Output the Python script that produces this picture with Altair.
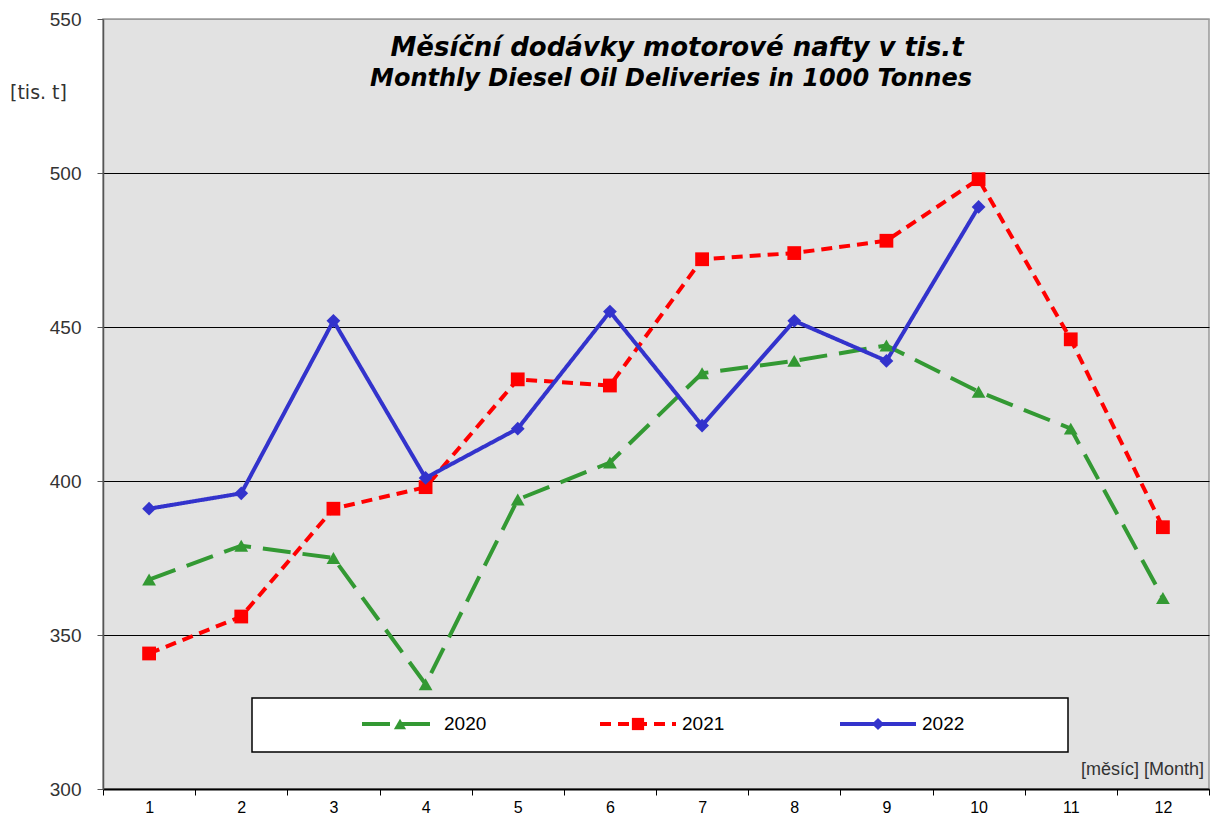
import altair as alt
import pandas as pd

months = list(range(1, 13))
years = ["2020", "2021", "2022"]
v2020 = [368, 379, 375, 334, 394, 406, 435, 439, 444, 429, 417, 362]
v2021 = [344, 356, 391, 398, 433, 431, 472, 474, 478, 498, 446, 385]
v2022 = [391, 396, 452, 401, 417, 455, 418, 452, 439, 489]
y_ticks = [300, 350, 400, 450, 500, 550]

colors = ["#339933", "#ff0000", "#3333cc"]
dashes = [[28, 12], [11, 7], [1, 0]]
shapes = ["triangle-up", "square", "diamond"]

rows = []
for yr, vals in zip(years, [v2020, v2021, v2022]):
    for m, v in zip(months, vals):
        rows.append({"month": m, "year": yr, "value": v})
df = pd.DataFrame(rows)

FONT = "Liberation Sans"
WIDE = "DejaVu Sans"

x_enc = alt.X(
    "month:O",
    scale=alt.Scale(type="band", paddingInner=0, paddingOuter=0),
    axis=alt.Axis(
        title=None, labelAngle=0, tickBand="extent", grid=False,
        domainColor="black", domainWidth=2, tickColor="black", tickSize=6,
        labelPadding=4, labelFontSize=16, labelColor="black", labelFont=FONT,
    ),
)
y_enc = alt.Y(
    "value:Q",
    scale=alt.Scale(domain=[300, 550], nice=False, zero=False),
    axis=alt.Axis(
        values=y_ticks, title=None, grid=True,
        gridColor={"condition": {"test": "datum.value === 550", "value": "#999999"}, "value": "black"},
        gridWidth=1, domainColor="#555555", domainWidth=1.5, tickColor="#555555",
        tickSize=6, labelPadding=16, labelFontSize=19, labelColor="#333333",
        labelFont=FONT,
    ),
)
col = alt.Color("year:N", scale=alt.Scale(domain=years, range=colors), legend=None)

base = alt.Chart(df).encode(x=x_enc, y=y_enc, color=col)

lines = base.mark_line(strokeWidth=4).encode(
    strokeDash=alt.StrokeDash("year:N", scale=alt.Scale(domain=years, range=dashes), legend=None),
    order=alt.Order("month:Q"),
)
points = base.mark_point(filled=True, opacity=1, size=190).encode(
    shape=alt.Shape("year:N", scale=alt.Scale(domain=years, range=shapes), legend=None),
)

one = pd.DataFrame({"a": [0]})
deco = []

# titles and axis captions
deco.append(alt.Chart(one).mark_text(text="Měsíční dodávky motorové nafty v tis.t", font=WIDE,
            fontSize=26, fontWeight="bold", fontStyle="italic", color="black", align="center",
            baseline="middle").encode(x=alt.value(574), y=alt.value(29)))
deco.append(alt.Chart(one).mark_text(text="Monthly Diesel Oil Deliveries in 1000 Tonnes", font=WIDE,
            fontSize=24, fontWeight="bold", fontStyle="italic", color="black", align="center",
            baseline="middle").encode(x=alt.value(568), y=alt.value(60)))
deco.append(alt.Chart(one).mark_text(text="[tis. t]", font=WIDE, fontSize=19, color="#333333",
            align="left", baseline="middle").encode(x=alt.value(-93), y=alt.value(74)))
deco.append(alt.Chart(one).mark_text(text="[měsíc] [Month]", font=FONT, fontSize=18, color="#333333",
            align="right", baseline="middle").encode(x=alt.value(1101), y=alt.value(751)))

# legend box
deco.append(alt.Chart(one).mark_rect(fill="white", stroke="black", strokeWidth=1.5).encode(
    x=alt.value(149), x2=alt.value(965), y=alt.value(679), y2=alt.value(733)))

leg_x = [259, 497, 737]
leg_y = 705
for yr, c, d, s, lx in zip(years, colors, dashes, shapes, leg_x):
    deco.append(alt.Chart(one).mark_rule(color=c, strokeWidth=4, strokeDash=d).encode(
        x=alt.value(lx), x2=alt.value(lx + 76), y=alt.value(leg_y)))
    deco.append(alt.Chart(one).mark_point(color=c, filled=True, opacity=1, size=150, shape=s).encode(
        x=alt.value(lx + 38), y=alt.value(leg_y)))
    deco.append(alt.Chart(one).mark_text(text=yr, font=FONT, fontSize=19, color="black",
                align="left", baseline="middle").encode(x=alt.value(lx + 82), y=alt.value(leg_y)))

chart = alt.layer(lines, points, *deco).properties(
    width=1106, height=770,
    autosize=alt.AutoSizeParams(type="none"),
    padding={"left": 95, "top": 11, "right": 1, "bottom": 27},
    background="white",
).configure_view(fill="#e2e2e2", stroke="#999999", strokeWidth=1.5)

chart.save("out.html", embed_options={"renderer": "svg", "actions": False})
